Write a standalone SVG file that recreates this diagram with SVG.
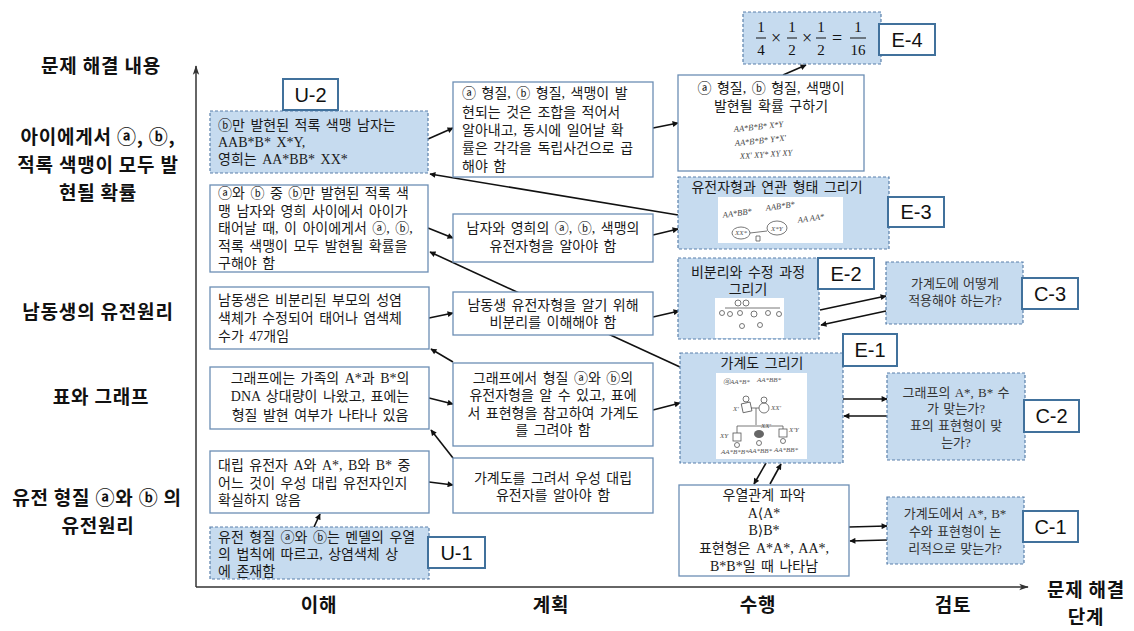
<svg xmlns="http://www.w3.org/2000/svg" width="1134" height="631" viewBox="0 0 1134 631">
  <defs>
    <marker id="ah" viewBox="0 0 10 10" refX="9" refY="5" markerWidth="7" markerHeight="6" markerUnits="userSpaceOnUse" orient="auto">
      <path d="M0,0 L10,5 L0,10 z" fill="#111"/>
    </marker>
    <marker id="axh" viewBox="0 0 12 10" refX="11" refY="5" markerWidth="11" markerHeight="8" markerUnits="userSpaceOnUse" orient="auto">
      <path d="M0,1 L12,5 L0,9 L3,5 z" fill="#333"/>
    </marker>
  </defs>
  <style>
    .dash { fill:#C6DBEF; stroke:#5A80AB; stroke-width:1.2; stroke-dasharray:3 2; }
    .solid { fill:#ffffff; stroke:#6C8EB4; stroke-width:1.3; }
    .pic { fill:#ffffff; stroke:none; }
    .tag rect { fill:#ffffff; stroke:#41719C; stroke-width:2; }
    .tag text { font-family:"Liberation Sans",Arial,sans-serif; font-size:20px; fill:#111; text-anchor:middle; }
    .t { font-family:"Liberation Serif","Noto Sans CJK KR",serif; font-size:14px; fill:#1a1a1a; word-spacing:2px; }
    .ang { font-family:"Liberation Serif","DejaVu Sans","Noto Sans CJK KR",serif; }
    .s { font-family:"Liberation Serif","Noto Sans CJK KR",sans-serif; font-size:13px; fill:#333; text-anchor:middle; word-spacing:1px; }
    .c { text-anchor:middle; }
    .h { font-family:"Noto Sans CJK KR",sans-serif; font-weight:bold; font-size:19px; letter-spacing:0.8px; fill:#111; text-anchor:middle; }
    .m { font-family:"Liberation Serif",serif; font-size:15px; fill:#111; text-anchor:middle; }
    .op { font-family:"Liberation Serif",serif; font-size:18px; fill:#111; text-anchor:middle; }
    .hw { font-family:"Liberation Serif",serif; font-style:italic; font-size:7px; fill:#555; }
    .hw2 { font-family:"Liberation Serif",serif; font-style:italic; font-size:8.5px; fill:#444; }
    .sk { fill:none; stroke:#555; stroke-width:0.8; }
    .conn line { stroke:#111; stroke-width:1.6; marker-end:url(#ah); }
    .axis line { stroke:#333; stroke-width:1.5; marker-end:url(#axh); }
  </style>

  <!-- axes -->
  <g id="axes" class="axis">
    <line x1="196" y1="587" x2="196" y2="66"/>
    <line x1="196" y1="587" x2="1028" y2="587"/>
  </g>

  <!-- row and column headings -->
  <g id="headings">
    <text class="h" x="101" y="73">문제 해결 내용</text>
    <text class="h" x="98" y="144">아이에게서 ⓐ, ⓑ,</text>
    <text class="h" x="98" y="172">적록 색맹이 모두 발</text>
    <text class="h" x="98" y="200">현될 확률</text>
    <text class="h" x="98" y="319">남동생의 유전원리</text>
    <text class="h" x="101" y="404">표와 그래프</text>
    <text class="h" x="97" y="505">유전 형질 ⓐ와 ⓑ 의</text>
    <text class="h" x="98" y="533">유전원리</text>
    <text class="h" x="319" y="612">이해</text>
    <text class="h" x="551" y="612">계획</text>
    <text class="h" x="758" y="612">수행</text>
    <text class="h" x="953" y="612">검토</text>
    <text class="h" x="1086" y="597">문제 해결</text>
    <text class="h" x="1086" y="624">단계</text>
  </g>

  <!-- connectors -->
  <g id="connectors" class="conn">
    <line x1="428" y1="139" x2="453" y2="128"/>
    <line x1="428" y1="228" x2="453" y2="238"/>
    <line x1="678" y1="215" x2="430" y2="174"/>
    <line x1="680" y1="367" x2="430" y2="252"/>
    <line x1="429" y1="318" x2="453" y2="313"/>
    <line x1="453" y1="362" x2="431" y2="349"/>
    <line x1="429" y1="398" x2="453" y2="404"/>
    <line x1="453" y1="458" x2="431" y2="430"/>
    <line x1="429" y1="482" x2="453" y2="485"/>
    <line x1="314" y1="527" x2="320" y2="514"/>
    <line x1="653" y1="128" x2="678" y2="123"/>
    <line x1="653" y1="235" x2="678" y2="229"/>
    <line x1="653" y1="317" x2="679" y2="311"/>
    <line x1="653" y1="410" x2="680" y2="403"/>
    <line x1="783" y1="75" x2="806" y2="65"/>
    <line x1="820" y1="310" x2="886" y2="296"/>
    <line x1="886" y1="311" x2="821" y2="325"/>
    <line x1="843" y1="399" x2="887" y2="399"/>
    <line x1="887" y1="416" x2="844" y2="416"/>
    <line x1="766" y1="463" x2="754" y2="484"/>
    <line x1="770" y1="484" x2="781" y2="464"/>
    <line x1="849" y1="527" x2="887" y2="526"/>
    <line x1="887" y1="540" x2="850" y2="541"/>
  </g>

  <!-- understanding column -->
  <g id="u2">
    <rect class="dash" x="210" y="111" width="218" height="62"/>
    <text class="t" x="218" y="130">ⓑ만 발현된 적록 색맹 남자는</text>
    <text class="t" x="218" y="147">AAB*B* X*Y,</text>
    <text class="t" x="218" y="164">영희는 AA*BB* XX*</text>
  </g>
  <g id="u2-tag" class="tag">
    <rect x="283" y="79" width="55" height="31"/>
    <text x="310.5" y="102">U-2</text>
  </g>
  <g id="u-prob">
    <rect class="solid" x="210" y="185" width="218" height="87"/>
    <text class="t" x="218" y="198">ⓐ와 ⓑ 중 ⓑ만 발현된 적록 색</text>
    <text class="t" x="218" y="215.5">맹 남자와 영희 사이에서 아이가</text>
    <text class="t" x="218" y="233">태어날 때, 이 아이에게서 ⓐ, ⓑ,</text>
    <text class="t" x="218" y="250.5">적록 색맹이 모두 발현될 확률을</text>
    <text class="t" x="218" y="268">구해야 함</text>
  </g>
  <g id="u-brother">
    <rect class="solid" x="210" y="287" width="219" height="62"/>
    <text class="t" x="218" y="305">남동생은 비분리된 부모의 성염</text>
    <text class="t" x="218" y="323">색체가 수정되어 태어나 염색체</text>
    <text class="t" x="218" y="341">수가 47개임</text>
  </g>
  <g id="u-graph">
    <rect class="solid" x="210" y="367" width="219" height="62"/>
    <text class="t c" x="320" y="383">그래프에는 가족의 A*과 B*의</text>
    <text class="t c" x="320" y="401">DNA 상대량이 나왔고, 표에는</text>
    <text class="t c" x="320" y="420">형질 발현 여부가 나타나 있음</text>
  </g>
  <g id="u-allele">
    <rect class="solid" x="210" y="451" width="219" height="62"/>
    <text class="t" x="218" y="470">대립 유전자 A와 A*, B와 B* 중</text>
    <text class="t" x="218" y="488">어느 것이 우성 대립 유전자인지</text>
    <text class="t" x="218" y="505">확실하지 않음</text>
  </g>
  <g id="u1">
    <rect class="dash" x="210" y="527" width="219" height="52"/>
    <text class="t" x="218" y="542">유전 형질 ⓐ와 ⓑ는 멘델의 우열</text>
    <text class="t" x="218" y="559">의 법칙에 따르고, 상염색체 상</text>
    <text class="t" x="218" y="576">에 존재함</text>
  </g>
  <g id="u1-tag" class="tag">
    <rect x="428" y="537" width="57" height="31"/>
    <text x="456.5" y="560">U-1</text>
  </g>

  <!-- planning column -->
  <g id="p-prob">
    <rect class="solid" x="453" y="82" width="200" height="95"/>
    <text class="t" x="462" y="98">ⓐ 형질, ⓑ 형질, 색맹이 발</text>
    <text class="t" x="462" y="117">현되는 것은 조합을 적어서</text>
    <text class="t" x="462" y="135">알아내고, 동시에 일어날 확</text>
    <text class="t" x="462" y="153">률은 각각을 독립사건으로 곱</text>
    <text class="t" x="462" y="171">해야 함</text>
  </g>
  <g id="p-genotype">
    <rect class="solid" x="453" y="214" width="200" height="48"/>
    <text class="t c" x="553" y="233">남자와 영희의 ⓐ, ⓑ, 색맹의</text>
    <text class="t c" x="553" y="251">유전자형을 알아야 함</text>
  </g>
  <g id="p-brother">
    <rect class="solid" x="453" y="292" width="200" height="43"/>
    <text class="t c" x="553" y="310">남동생 유전자형을 알기 위해</text>
    <text class="t c" x="553" y="327">비분리를 이해해야 함</text>
  </g>
  <g id="p-graph">
    <rect class="solid" x="453" y="363" width="200" height="83"/>
    <text class="t c" x="553" y="383">그래프에서 형질 ⓐ와 ⓑ의</text>
    <text class="t c" x="553" y="400">유전자형을 알 수 있고, 표에</text>
    <text class="t c" x="553" y="418">서 표현형을 참고하여 가계도</text>
    <text class="t c" x="553" y="435">를 그려야 함</text>
  </g>
  <g id="p-pedigree">
    <rect class="solid" x="453" y="458" width="200" height="55"/>
    <text class="t c" x="553" y="483">가계도를 그려서 우성 대립</text>
    <text class="t c" x="553" y="500">유전자를 알아야 함</text>
  </g>

  <!-- execution column -->
  <g id="e4">
    <rect class="dash" x="743" y="12" width="138" height="52"/>
    <text class="m" x="761" y="32">1</text>
    <line x1="756" y1="38" x2="766" y2="38" stroke="#111" stroke-width="1"/>
    <text class="m" x="761" y="55">4</text>
    <text class="op" x="776" y="44">×</text>
    <text class="m" x="792" y="32">1</text>
    <line x1="787" y1="38" x2="797" y2="38" stroke="#111" stroke-width="1"/>
    <text class="m" x="792" y="55">2</text>
    <text class="op" x="807" y="44">×</text>
    <text class="m" x="821" y="32">1</text>
    <line x1="816" y1="38" x2="826" y2="38" stroke="#111" stroke-width="1"/>
    <text class="m" x="821" y="55">2</text>
    <text class="op" x="837" y="44">=</text>
    <text class="m" x="858" y="32">1</text>
    <line x1="850" y1="38" x2="866" y2="38" stroke="#111" stroke-width="1"/>
    <text class="m" x="858" y="55">16</text>
  </g>
  <g id="e4-tag" class="tag">
    <rect x="879" y="24" width="56" height="31"/>
    <text x="907" y="47">E-4</text>
  </g>
  <g id="e-prob">
    <rect class="solid" x="678" y="75" width="186" height="96"/>
    <text class="t c" x="771" y="93">ⓐ 형질, ⓑ 형질, 색맹이</text>
    <text class="t c" x="771" y="111">발현될 확률 구하기</text>
    <text class="hw2" x="734" y="132" transform="rotate(-6 734 132)">AA*B*B* X*Y</text>
    <text class="hw2" x="735" y="146" transform="rotate(-6 735 146)">AA*B*B* Y*X'</text>
    <text class="hw2" x="740" y="159" transform="rotate(-4 740 159)">XX'  XY*  XY XY</text>
  </g>
  <g id="e3">
    <rect class="dash" x="678" y="177" width="211" height="72"/>
    <text class="t c" x="777" y="192">유전자형과 연관 형태 그리기</text>
    <rect class="pic" x="718" y="197" width="125" height="46"/>
    <text class="hw2" x="723" y="218" transform="rotate(-8 723 218)">AA*BB*</text>
    <text class="hw2" x="766" y="211" transform="rotate(-8 766 211)">AAB*B*</text>
    <text class="hw2" x="798" y="223" transform="rotate(-8 798 223)">AA AA*</text>
    <ellipse class="sk" cx="741" cy="233" rx="9" ry="6"/>
    <text class="hw" x="735" y="235">XX*</text>
    <ellipse class="sk" cx="777" cy="228" rx="10" ry="7"/>
    <text class="hw" x="771" y="231">X*Y</text>
    <line class="sk" x1="750" y1="233" x2="767" y2="231"/>
    <path class="sk" d="M756,236 L760,236 L760,241 L756,241 z"/>
  </g>
  <g id="e3-tag" class="tag">
    <rect x="888" y="197" width="56" height="30"/>
    <text x="916" y="219">E-3</text>
  </g>
  <g id="e2">
    <rect class="dash" x="678" y="258" width="141" height="81"/>
    <text class="t c" x="748" y="277">비분리와 수정 과정</text>
    <text class="t c" x="748" y="294">그리기</text>
    <rect class="pic" x="715" y="298" width="69" height="40"/>
    <circle class="sk" cx="738" cy="303" r="3"/>
    <circle class="sk" cx="746" cy="303" r="3"/>
    <line class="sk" x1="725" y1="308" x2="780" y2="308"/>
    <circle class="sk" cx="722" cy="313" r="2.5"/>
    <circle class="sk" cx="730" cy="314" r="2.5"/>
    <circle class="sk" cx="740" cy="313" r="2.5"/>
    <circle class="sk" cx="754" cy="314" r="3"/>
    <circle class="sk" cx="768" cy="313" r="2.5"/>
    <circle class="sk" cx="779" cy="314" r="2.5"/>
    <circle class="sk" cx="742" cy="326" r="2.5"/>
    <circle class="sk" cx="760" cy="325" r="2.5"/>
  </g>
  <g id="e2-tag" class="tag">
    <rect x="818" y="258" width="56" height="31"/>
    <text x="846" y="281">E-2</text>
  </g>
  <g id="e1">
    <rect class="dash" x="680" y="353" width="163" height="110"/>
    <text class="t c" x="762" y="368">가계도 그리기</text>
    <rect class="pic" x="716" y="373" width="91" height="86"/>
    <text class="hw" x="723" y="384">ⓐAA*B*</text>
    <text class="hw" x="757" y="382">AA*BB*</text>
    <circle class="sk" cx="746" cy="399" r="3"/>
    <rect class="sk" x="742" y="403" width="9" height="9" transform="rotate(-12 746 407)"/>
    <text class="hw" x="733" y="411">X'</text>
    <circle class="sk" cx="764" cy="400" r="3"/>
    <circle class="sk" cx="764" cy="408" r="5"/>
    <text class="hw" x="771" y="410">XX'</text>
    <line class="sk" x1="751" y1="408" x2="759" y2="408"/>
    <line class="sk" x1="756" y1="408" x2="756" y2="425"/>
    <line class="sk" x1="737" y1="426" x2="783" y2="426"/>
    <line class="sk" x1="737" y1="426" x2="737" y2="433"/>
    <line class="sk" x1="783" y1="426" x2="783" y2="429"/>
    <rect class="sk" x="733" y="433" width="8" height="8"/>
    <text class="hw" x="720" y="438">XY</text>
    <ellipse cx="759" cy="434" rx="5" ry="4" fill="#666"/>
    <text class="hw" x="761" y="428">XX'</text>
    <rect class="sk" x="779" y="429" width="8" height="8"/>
    <text class="hw" x="789" y="432">X'Y</text>
    <circle class="sk" cx="737" cy="445" r="2.5"/>
    <circle class="sk" cx="759" cy="443" r="2.5"/>
    <circle class="sk" cx="783" cy="441" r="2.5"/>
    <text class="hw" x="721" y="454">AA*B*B*</text>
    <text class="hw" x="748" y="453">AA*BB*</text>
    <text class="hw" x="774" y="452">AA*BB*</text>
  </g>
  <g id="e1-tag" class="tag">
    <rect x="843" y="334" width="54" height="32"/>
    <text x="870" y="357">E-1</text>
  </g>
  <g id="e-dominance">
    <rect class="solid" x="679" y="485" width="170" height="91"/>
    <text class="t c" x="764" y="500">우열관계 파악</text>
    <text class="t c ang" x="764" y="518">A⟨A*</text>
    <text class="t c ang" x="764" y="535">B⟩B*</text>
    <text class="t c" x="764" y="553">표현형은 A*A*, AA*,</text>
    <text class="t c" x="764" y="571">B*B*일 때 나타남</text>
  </g>

  <!-- checking column -->
  <g id="c3">
    <rect class="dash" x="886" y="262" width="137" height="62"/>
    <text class="s" x="955" y="288">가계도에 어떻게</text>
    <text class="s" x="955" y="305">적용해야 하는가?</text>
  </g>
  <g id="c3-tag" class="tag">
    <rect x="1022" y="278" width="56" height="31"/>
    <text x="1050" y="301">C-3</text>
  </g>
  <g id="c2">
    <rect class="dash" x="887" y="373" width="138" height="87"/>
    <text class="s" x="956" y="397">그래프의 A*, B* 수</text>
    <text class="s" x="956" y="413">가 맞는가?</text>
    <text class="s" x="956" y="430">표의 표현형이 맞</text>
    <text class="s" x="956" y="447">는가?</text>
  </g>
  <g id="c2-tag" class="tag">
    <rect x="1024" y="400" width="55" height="32"/>
    <text x="1051.5" y="423">C-2</text>
  </g>
  <g id="c1">
    <rect class="dash" x="887" y="497" width="137" height="67"/>
    <text class="s" x="955" y="518">가계도에서 A*, B*</text>
    <text class="s" x="955" y="536">수와 표현형이 논</text>
    <text class="s" x="955" y="553">리적으로 맞는가?</text>
  </g>
  <g id="c1-tag" class="tag">
    <rect x="1023" y="511" width="55" height="31"/>
    <text x="1050.5" y="534">C-1</text>
  </g>
</svg>
